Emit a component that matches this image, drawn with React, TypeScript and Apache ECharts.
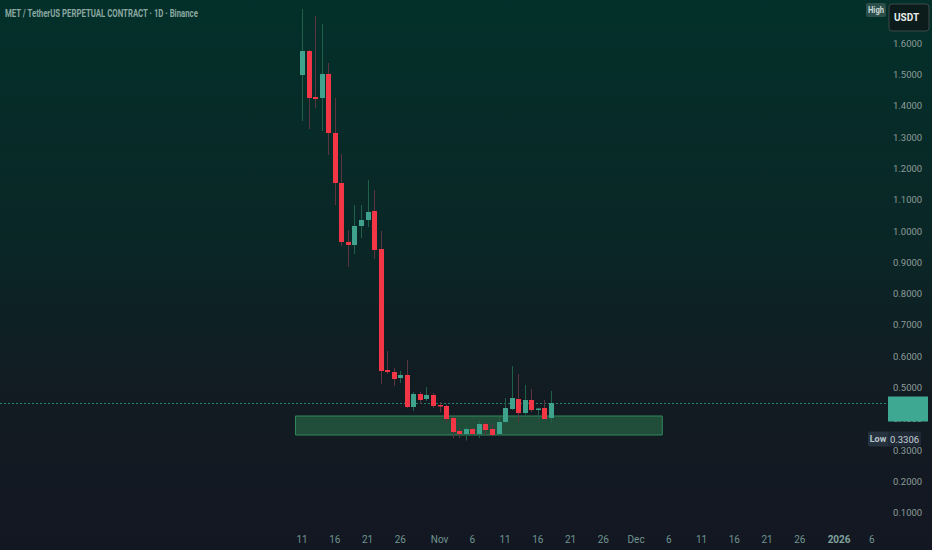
import React, { useEffect, useRef } from "react";
import * as echarts from "echarts";

const TITLE = "MET / TetherUS PERPETUAL CONTRACT · 1D · Binance";
const QUOTE = "USDT";
const BASE_DATE = "2025-10-11";

const dates = [
  "2025-10-11", "2025-10-12", "2025-10-13", "2025-10-14", "2025-10-15", "2025-10-16", "2025-10-17",
  "2025-10-18", "2025-10-19", "2025-10-20", "2025-10-21", "2025-10-22", "2025-10-23", "2025-10-24",
  "2025-10-25", "2025-10-26", "2025-10-27", "2025-10-28", "2025-10-29", "2025-10-30", "2025-10-31",
  "2025-11-01", "2025-11-02", "2025-11-03", "2025-11-04", "2025-11-05", "2025-11-06", "2025-11-07",
  "2025-11-08", "2025-11-09", "2025-11-10", "2025-11-11", "2025-11-12", "2025-11-13", "2025-11-14",
  "2025-11-15", "2025-11-16", "2025-11-17", "2025-11-18",
];
const opens = [
  1.4987, 1.5754, 1.4284, 1.4252, 1.5019, 1.3133, 1.1535, 0.965, 0.9554, 1.0161, 1.0353, 1.0641, 0.9426,
  0.5559, 0.5495, 0.5304, 0.5399, 0.4377, 0.4792, 0.4632, 0.476, 0.4441, 0.4409, 0.4025, 0.361, 0.3514,
  0.3674, 0.3514, 0.3833, 0.3674, 0.3514, 0.3897, 0.4313, 0.4632, 0.4185, 0.46, 0.4281, 0.4345, 0.4025,
];
const highs = [
  1.7096, 1.5786, 1.6873, 1.6617, 1.5371, 1.4252, 1.2462, 1.0033, 1.0832, 1.0832, 1.1631, 1.1312, 1.0001,
  0.6166, 0.5623, 0.5527, 0.5879, 0.4856, 0.4856, 0.5016, 0.4824, 0.4536, 0.4441, 0.4057, 0.3706, 0.3769,
  0.3706, 0.3929, 0.3897, 0.3833, 0.4057, 0.4664, 0.5687, 0.5431, 0.508, 0.4952, 0.4345, 0.46, 0.4888,
];
const lows = [
  1.3517, 1.3261, 1.3932, 1.3197, 1.243, 1.0832, 0.9522, 0.8851, 0.9266, 0.9778, 1.0129, 0.9107, 0.5112,
  0.5431, 0.5048, 0.5144, 0.4345, 0.4249, 0.4473, 0.4568, 0.4345, 0.4217, 0.3865, 0.3386, 0.3386, 0.3306,
  0.345, 0.3386, 0.3482, 0.345, 0.3482, 0.3865, 0.4281, 0.3897, 0.4121, 0.4217, 0.3993, 0.3993, 0.3865,
];
const closes = [
  1.5754, 1.4252, 1.422, 1.5019, 1.3133, 1.1535, 0.965, 0.9554, 1.0161, 1.0353, 1.0609, 0.9394, 0.5527,
  0.5495, 0.5272, 0.5399, 0.4377, 0.4792, 0.46, 0.476, 0.4409, 0.4393, 0.3993, 0.3578, 0.3514, 0.3674,
  0.3514, 0.3833, 0.3642, 0.3482, 0.3897, 0.4345, 0.4664, 0.4185, 0.46, 0.4281, 0.4329, 0.3993, 0.4505,
];

const tickDates = [
  "2025-10-11", "2025-10-16", "2025-10-21", "2025-10-26", "2025-11-01", "2025-11-06", "2025-11-11",
  "2025-11-16", "2025-11-21", "2025-11-26", "2025-12-01", "2025-12-06", "2025-12-11", "2025-12-16",
  "2025-12-21", "2025-12-26", "2026-01-01", "2026-01-06",
];
const tickLabels = ["11", "16", "21", "26", "Nov", "6", "11", "16", "21", "26", "Dec", "6", "11", "16", "21", "26", "2026", "6"];
const priceTicks = [0.1, 0.2, 0.3, 0.4, 0.5, 0.6, 0.7, 0.8, 0.9, 1.0, 1.1, 1.2, 1.3, 1.4, 1.5, 1.6];

const zoneFrom = "2025-10-10";
const zoneTo = "2025-12-05";
const zoneTop = 0.4089;
const zoneBottom = 0.3482;

const DAY = 86400000;
const dayOf = (d: string) => (Date.parse(d) - Date.parse(BASE_DATE)) / DAY;

const UP = "#3fa28c";
const DOWN = "#f23645";
const UP_WICK = "#1e6148";
const DOWN_WICK = "#5c3440";
const FONT = "Roboto, 'Noto Sans', sans-serif";

export default function App() {
  const ref = useRef<HTMLDivElement>(null);
  useEffect(() => {
    if (!ref.current) return;
    const chart = echarts.init(ref.current, null, { renderer: "svg" });
    const data = dates.map((d, i) => [dayOf(d), opens[i], closes[i], lows[i], highs[i]]);
    const tickDays = tickDates.map(dayOf);
    const lastClose = closes[closes.length - 1];
    const lowVal = Math.min(...lows);

    const option: any = {
      animation: false,
      backgroundColor: {
        type: "linear", x: 0, y: 0, x2: 0, y2: 1,
        colorStops: [
          { offset: 0, color: "#03302a" },
          { offset: 0.45, color: "#0a2626" },
          { offset: 0.72, color: "#121b22" },
          { offset: 1, color: "#131722" },
        ],
      },
      grid: { left: 0, right: 46, top: 0, height: 528 },
      xAxis: {
        type: "value",
        min: -46.11,
        max: 89.16,
        splitLine: { show: false },
        axisLine: { show: false },
        axisTick: { show: false },
        axisLabel: {
          customValues: tickDays,
          margin: 6,
          fontSize: 10,
          fontFamily: FONT,
          color: "#6e9590",
          formatter: (v: number) => {
            const i = tickDays.findIndex((t) => Math.abs(t - v) < 0.01);
            const s = i >= 0 ? tickLabels[i] : "";
            return s === "2026" ? "{b|" + s + "}" : s;
          },
          rich: { b: { fontWeight: "bold", fontSize: 10, fontFamily: FONT, color: "#7fa19c" } },
        },
      },
      yAxis: {
        type: "value",
        position: "right",
        min: 0.051,
        max: 1.7384,
        splitLine: { show: false },
        axisLine: { show: false },
        axisTick: { show: false },
        axisLabel: {
          customValues: priceTicks,
          margin: 7,
          fontSize: 9.5,
          fontFamily: FONT,
          color: "#8d9c99",
          formatter: (v: number) => v.toFixed(4),
        },
      },
      series: [
        {
          type: "custom",
          data,
          clip: false,
          renderItem: (params: any, api: any) => {
            const d = api.value(0);
            const o = api.value(1);
            const c = api.value(2);
            const l = api.value(3);
            const h = api.value(4);
            const pO = api.coord([d, o]);
            const pC = api.coord([d, c]);
            const pL = api.coord([d, l]);
            const pH = api.coord([d, h]);
            const x = Math.round(pO[0]);
            const up = c >= o;
            const top = Math.min(pO[1], pC[1]);
            const hgt = Math.max(1.5, Math.abs(pO[1] - pC[1]));
            return {
              type: "group",
              children: [
                {
                  type: "line",
                  shape: { x1: x + 0.5, y1: pH[1], x2: x + 0.5, y2: pL[1] },
                  style: { stroke: up ? UP_WICK : DOWN_WICK, lineWidth: 1 },
                },
                {
                  type: "rect",
                  shape: { x: x - 2, y: top, width: 5, height: hgt },
                  style: { fill: up ? UP : DOWN },
                },
              ],
            };
          },
          markArea: {
            silent: true,
            itemStyle: { color: "rgba(44,120,76,0.55)", borderColor: "#2f8a5c", borderWidth: 1 },
            data: [[{ xAxis: dayOf(zoneFrom), yAxis: zoneTop }, { xAxis: dayOf(zoneTo), yAxis: zoneBottom }]],
          },
          markLine: {
            silent: true,
            symbol: ["none", "none"],
            label: { show: false },
            emphasis: { disabled: true },
            lineStyle: { color: "#23876d", type: [2, 2], width: 1, opacity: 1 },
            data: [{ yAxis: lastClose }],
          },
          z: 5,
        },
      ],
    };
    chart.setOption(option);

    const yLast = chart.convertToPixel({ xAxisIndex: 0, yAxisIndex: 0 }, [0, lastClose])[1];
    const yLow = chart.convertToPixel({ xAxisIndex: 0, yAxisIndex: 0 }, [0, lowVal])[1] - 2;

    chart.setOption({
      graphic: [
        {
          type: "text", x: 5, y: 13, z: 100, scaleX: 0.71,
          style: { text: TITLE, fill: "#8aa7a0", font: "bold 11px " + FONT, verticalAlign: "middle" },
        },
        {
          type: "rect", z: 100, shape: { x: 866, y: 3, width: 20, height: 14, r: 2 },
          style: { fill: "#2c4f4b" },
        },
        {
          type: "text", z: 101, x: 876, y: 10, scaleX: 0.85,
          style: { text: "High", fill: "#c7d6d2", font: "bold 9px " + FONT, align: "center", verticalAlign: "middle" },
        },
        {
          type: "rect", z: 100, shape: { x: 889, y: 4, width: 40, height: 27, r: 3 },
          style: { fill: "#0c1c1b", stroke: "#3d4b4a", lineWidth: 1 },
        },
        {
          type: "text", z: 101, x: 894, y: 17.5,
          style: { text: QUOTE, fill: "#e4ebea", font: "bold 10px " + FONT, verticalAlign: "middle" },
        },
        {
          type: "rect", z: 100, shape: { x: 888, y: yLast - 6.5, width: 40, height: 25 },
          style: { fill: "#3fa893" },
        },
        {
          type: "rect", z: 100, shape: { x: 868, y: yLow - 7, width: 20, height: 15, r: [2, 0, 0, 2] },
          style: { fill: "#27323f" },
        },
        {
          type: "text", z: 101, x: 878, y: yLow + 0.5,
          style: { text: "Low", fill: "#b9c6cc", font: "bold 9px " + FONT, align: "center", verticalAlign: "middle" },
        },
        {
          type: "rect", z: 100, shape: { x: 888, y: yLow - 7, width: 33, height: 15, r: [0, 2, 2, 0] },
          style: { fill: "#202a36" },
        },
        {
          type: "text", z: 101, x: 904.5, y: yLow + 0.5,
          style: { text: lowVal.toFixed(4), fill: "#c5cfd5", font: "9.5px " + FONT, align: "center", verticalAlign: "middle" },
        },
      ],
    });

    return () => chart.dispose();
  }, []);
  return <div ref={ref} style={{ position: "absolute", left: 0, top: 0, width: 932, height: 550 }} />;
}
